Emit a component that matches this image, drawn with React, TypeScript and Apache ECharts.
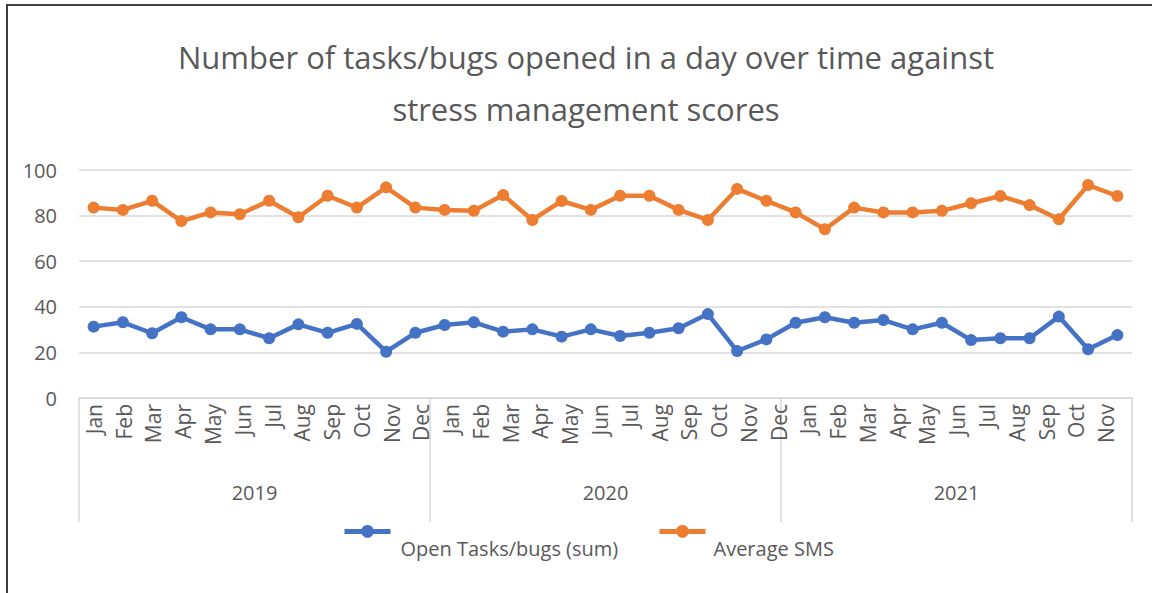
import React, { useEffect, useRef } from "react";
import * as echarts from "echarts";

const years = ["2019", "2020", "2021"];
const months = ["Jan", "Feb", "Mar", "Apr", "May", "Jun", "Jul", "Aug", "Sep", "Oct", "Nov", "Dec"];
// month labels as printed under the axis (2021 shows Jan..Nov)
const monthTickLabels = [...months, ...months, ...months.slice(0, 11)];
const categories = years.flatMap((y) => months.map((m) => `${y} ${m}`));

const openTasks = [
  31.3, 33.2, 28.4, 35.4, 30.1, 30.1, 26.2, 32.3, 28.6, 32.5, 20.3, 28.6,
  32.0, 33.2, 29.1, 30.1, 26.9, 30.1, 27.2, 28.6, 30.6, 36.8, 20.6, 25.7,
  33.0, 35.4, 33.0, 34.2, 30.1, 33.0, 25.4, 26.2, 26.2, 35.7, 21.4, 27.6,
];
const averageSMS = [
  83.5, 82.5, 86.5, 77.6, 81.4, 80.6, 86.5, 79.3, 88.7, 83.5, 92.4, 83.5,
  82.5, 82.1, 89.0, 78.1, 86.4, 82.5, 88.7, 88.7, 82.5, 78.1, 91.7, 86.5,
  81.4, 74.0, 83.5, 81.4, 81.4, 82.1, 85.4, 88.6, 84.6, 78.4, 93.4, 88.6,
];

const FONT = "Open Sans";
const GRAY = "#595959";
const BLUE = "#4472C4";
const ORANGE = "#ED7D31";

const legendText = (padLeft: number) => ({
  formatter: "{t|{name}}",
  textStyle: {
    fontFamily: FONT,
    fontSize: 20,
    color: GRAY,
    rich: { t: { fontFamily: FONT, fontSize: 20, color: GRAY, padding: [34, 0, 0, padLeft] } },
  },
});

export default function App() {
  const ref = useRef<HTMLDivElement>(null);
  useEffect(() => {
    if (!ref.current) return;
    const chart = echarts.init(ref.current, null, { renderer: "svg" });
    chart.setOption({
      animation: false,
      backgroundColor: "#ffffff",
      title: {
        text: "Number of tasks/bugs opened in a day over time against\nstress management scores",
        left: 581,
        top: 26,
        textAlign: "center",
        textStyle: { fontFamily: FONT, fontSize: 31, fontWeight: "normal", color: GRAY, lineHeight: 52 },
      },
      legend: [
        {
          data: ["Open Tasks/bugs (sum)"],
          left: 337,
          top: 520,
          itemWidth: 46,
          itemHeight: 16,
          lineStyle: { width: 5 },
          ...legendText(5),
        },
        {
          data: ["Average SMS"],
          left: 652,
          top: 520,
          itemWidth: 46,
          itemHeight: 16,
          lineStyle: { width: 5 },
          ...legendText(3),
        },
      ],
      grid: [
        { left: 79, right: 20, top: 170, bottom: 195 },
        { left: 79, width: 1042, top: 170, bottom: 195 },
      ],
      xAxis: [
        {
          type: "category",
          gridIndex: 0,
          data: categories,
          boundaryGap: true,
          axisLine: { show: true, lineStyle: { color: "#d9d9d9", width: 1.5 } },
          axisTick: { show: true, interval: 11, length: 124, lineStyle: { color: "#d9d9d9", width: 1.5 } },
          axisLabel: { show: false },
        },
        {
          type: "category",
          gridIndex: 0,
          position: "bottom",
          data: years,
          offset: 78,
          axisLine: { show: false },
          axisTick: { show: false },
          axisLabel: { fontFamily: FONT, fontSize: 20, color: GRAY, margin: 6 },
        },
        {
          type: "category",
          gridIndex: 1,
          data: monthTickLabels,
          boundaryGap: true,
          axisLine: { show: false },
          axisTick: { show: false },
          axisLabel: { interval: 0, rotate: 90, fontFamily: FONT, fontSize: 21, color: GRAY, margin: 6 },
        },
      ],
      yAxis: [
        {
          type: "value",
          gridIndex: 0,
          min: 0,
          max: 100,
          interval: 20,
          axisLine: { show: false },
          axisTick: { show: false },
          axisLabel: { fontFamily: FONT, fontSize: 20, color: GRAY, margin: 22 },
          splitLine: { lineStyle: { color: "#d9d9d9", width: 1.5 } },
        },
        { type: "value", gridIndex: 1, min: 0, max: 100, show: false },
      ],
      series: [
        {
          name: "Open Tasks/bugs (sum)",
          type: "line",
          xAxisIndex: 0,
          yAxisIndex: 0,
          data: openTasks,
          symbol: "circle",
          symbolSize: 12,
          color: BLUE,
          lineStyle: { width: 4.5, color: BLUE },
          itemStyle: { color: BLUE },
        },
        {
          name: "Average SMS",
          type: "line",
          xAxisIndex: 0,
          yAxisIndex: 0,
          data: averageSMS,
          symbol: "circle",
          symbolSize: 12,
          color: ORANGE,
          lineStyle: { width: 4.5, color: ORANGE },
          itemStyle: { color: ORANGE },
        },
      ],
    });
    return () => chart.dispose();
  }, []);
  return (
    <div style={{ position: "fixed", left: 0, top: 0, width: 1152, height: 593, background: "#fff" }}>
      <div ref={ref} style={{ position: "absolute", left: 0, top: 0, width: 1152, height: 593 }} />
      <div
        style={{
          position: "absolute",
          left: 6,
          top: 4,
          width: 1160,
          height: 600,
          borderLeft: "2px solid #3f3f3f",
          borderTop: "2px solid #3f3f3f",
          pointerEvents: "none",
        }}
      />
    </div>
  );
}
